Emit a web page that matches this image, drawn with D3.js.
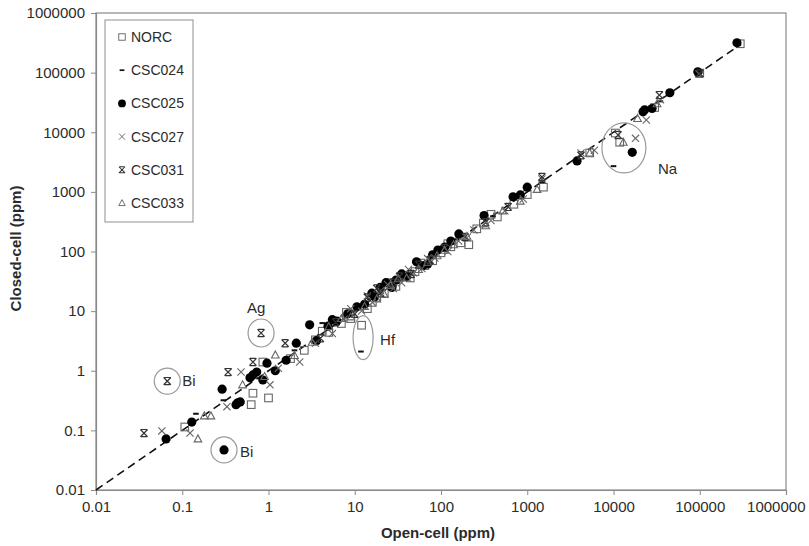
<!DOCTYPE html>
<html>
<head>
<meta charset="utf-8">
<script src="https://cdn.jsdelivr.net/npm/d3@7"></script>
<style>
  body { margin: 0; background: #fff; }
  svg { display: block; font-family: "Liberation Sans", Arial, sans-serif; }
</style>
</head>
<body>
<svg id="chart" width="809" height="546"></svg>
<script>
// Open-cell vs closed-cell concentrations (ppm), log-log

const tickValues = [0.01, 0.1, 1, 10, 100, 1000, 10000, 100000, 1000000];
const tickLabels = ["0.01", "0.1", "1", "10", "100", "1000", "10000", "100000", "1000000"];
const seriesNames = ["NORC", "CSC024", "CSC025", "CSC027", "CSC031", "CSC033"];

// [open-cell, closed-cell]
const norc = [[0.107, 0.114], [0.66, 0.42], [1.0, 0.35], [0.63, 0.27], [0.86, 1.4], [1.8, 1.6],
    [2.6, 2.2], [3.5, 3.3], [5, 4.4], [7, 6.2], [9, 7.5], [12, 5.8], [14, 11], [18, 17], [22, 20],
    [30, 26], [38, 40], [50, 46], [65, 58], [80, 70], [100, 95], [130, 120], [170, 140], [210, 130],
    [310, 300], [450, 380], [700, 620], [1000, 900], [1540, 1200], [5300, 4500], [10500, 9700],
    [11800, 6800], [30000, 26000], [100000, 98000], [295000, 305000],
    [4.2, 4.6], [8, 9.5], [16, 14], [26, 30], [44, 36], [58, 64], [120, 135], [260, 240], [380, 420]];
const csc024 = [[0.144, 0.19], [0.3, 0.32], [4.2, 6.3], [11.8, 2.1], [0.8, 0.75], [2, 2.2], [8, 8.5],
    [25, 26], [60, 62], [150, 160], [400, 390], [1500, 1450], [10000, 2700], [35000, 33000],
    [100000, 100000], [280000, 290000], [15, 16], [35, 33], [90, 95]];
const csc025 = [[0.065, 0.072], [0.129, 0.138], [0.29, 0.49], [0.44, 0.29], [0.305, 0.047], [0.47, 0.3],
    [0.42, 0.27], [0.61, 0.76], [0.66, 0.85], [0.73, 0.95], [0.86, 0.7], [0.96, 1.34], [1.6, 1.5],
    [2.1, 2.9], [3.0, 5.9], [4.9, 5.6], [6.2, 6.8], [8.3, 9], [10.6, 11.8], [13, 13], [15.8, 20],
    [19.7, 25], [23, 30], [30, 33], [40, 38], [52, 67], [70, 62], [92, 106], [110, 118], [161, 197],
    [316, 400], [685, 825], [830, 890], [1000, 1200], [3780, 3300], [16500, 4600], [22000, 22000],
    [23000, 23800], [28000, 25000], [45000, 46000], [95000, 103000], [270000, 316000],
    [3.6, 3.2], [5.5, 7.2], [17, 17.5], [27, 25], [35, 42], [62, 58], [80, 88], [130, 150], [1.2, 1.0]];
const csc027 = [[0.058, 0.098], [0.123, 0.09], [0.33, 0.25], [0.48, 0.95], [1.04, 0.58], [2.3, 1.4],
    [1.3, 1.1], [3.5, 2.9], [5.5, 4.2], [7.5, 7.3], [12, 10], [16, 14], [20, 22], [28, 24], [35, 30],
    [48, 44], [60, 52], [85, 78], [120, 100], [160, 150], [240, 230], [380, 330], [550, 480],
    [900, 760], [1480, 1650], [4200, 4500], [6000, 5000], [18000, 7900], [24000, 16000],
    [35000, 35000], [98000, 95000], [9, 11], [14, 18], [24, 28], [42, 50], [70, 76], [200, 170]];
const csc031 = [[0.036, 0.09], [0.067, 0.67], [0.34, 0.95], [0.66, 1.4], [0.82, 4.3], [1.56, 2.9],
    [4, 3.5], [6, 6.5], [10, 9], [14, 17], [20, 20], [33, 38], [45, 42], [75, 72], [110, 115],
    [190, 175], [330, 310], [600, 560], [1480, 1780], [4200, 4100], [11300, 9000], [34000, 42000],
    [100000, 97000], [18, 24], [28, 30], [55, 60]];
const csc033 = [[0.152, 0.072], [0.18, 0.175], [0.215, 0.175], [0.5, 0.58], [1.2, 1.84], [0.9, 0.8],
    [2, 1.8], [3.2, 3], [5, 5.5], [9, 8], [13, 12], [18, 16], [26, 27], [40, 36], [55, 50], [90, 85],
    [140, 130], [200, 180], [330, 270], [520, 480], [830, 700], [1300, 1100], [5300, 4500],
    [13000, 6800], [19000, 17000], [32000, 30000], [7, 7.5], [22, 19], [32, 35], [70, 66], [110, 105]];

const oneToOne = [0.01, 300000];

// circled outliers: element label and the point the ring sits on
const annoLabels = ["Bi", "Bi", "Ag", "Hf", "Na"];
const annoPoints = [[0.067, 0.67], [0.305, 0.047], [0.82, 4.3], [12.5, 3.6], [13200, 5470]];

const W = 809, H = 546;
const margin = { top: 13, right: 23, bottom: 56, left: 96 };
const innerW = W - margin.left - margin.right;
const innerH = H - margin.top - margin.bottom;

const svg = d3.select("#chart");
const g = svg.append("g").attr("transform", `translate(${margin.left},${margin.top})`);

const x = d3.scaleLog().domain([0.01, 1000000]).range([0, innerW]);
const y = d3.scaleLog().domain([0.01, 1000000]).range([innerH, 0]);

const AXIS_COL = "#8a8a8a";
const TEXT_COL = "#2b2b2b";

// frame
g.append("rect")
    .attr("width", innerW).attr("height", innerH)
    .attr("fill", "none").attr("stroke", AXIS_COL).attr("stroke-width", 1.2);

// axes
const xAxis = g.append("g")
    .attr("transform", `translate(0,${innerH})`)
    .call(d3.axisBottom(x).tickValues(tickValues).tickFormat((d, i) => tickLabels[i]).tickSize(5).tickPadding(6));
const yAxis = g.append("g")
    .call(d3.axisLeft(y).tickValues(tickValues).tickFormat((d, i) => tickLabels[i]).tickSize(5).tickPadding(6));

[xAxis, yAxis].forEach(ax => {
    ax.select(".domain").attr("stroke", AXIS_COL).attr("stroke-width", 1.2);
    ax.selectAll(".tick line").attr("stroke", AXIS_COL);
    ax.selectAll(".tick text")
        .attr("fill", TEXT_COL)
        .attr("font-size", "15px")
        .attr("font-family", "Liberation Sans, Arial, sans-serif");
});
// last x label is pulled in so it stays inside the page, like the original
xAxis.selectAll(".tick text").filter(d => d === 1000000)
    .attr("text-anchor", "end").attr("dx", "19px");

// titles
svg.append("text")
    .attr("x", margin.left + innerW / 2 - 3)
    .attr("y", 538)
    .attr("text-anchor", "middle")
    .attr("font-size", "15px").attr("font-weight", "bold").attr("fill", TEXT_COL)
    .text("Open-cell (ppm)");
svg.append("text")
    .attr("transform", `translate(21,${margin.top + innerH / 2 - 3}) rotate(-90)`)
    .attr("text-anchor", "middle")
    .attr("font-size", "15px").attr("font-weight", "bold").attr("fill", TEXT_COL)
    .text("Closed-cell (ppm)");

// 1:1 line
g.append("line")
    .attr("x1", x(oneToOne[0])).attr("y1", y(oneToOne[0]))
    .attr("x2", x(oneToOne[1])).attr("y2", y(oneToOne[1]))
    .attr("stroke", "#111").attr("stroke-width", 1.6)
    .attr("stroke-dasharray", "8,5");

// --- marker shapes ---
function drawMarker(sel, type) {
    if (type === "NORC") {
        sel.append("rect").attr("x", -3.8).attr("y", -3.8).attr("width", 7.6).attr("height", 7.6)
            .attr("fill", "none").attr("stroke", "#666").attr("stroke-width", 1.1);
    } else if (type === "CSC024") {
        sel.append("rect").attr("x", -2.8).attr("y", -1).attr("width", 5.6).attr("height", 2)
            .attr("fill", "#111");
    } else if (type === "CSC025") {
        sel.append("circle").attr("r", 4.6).attr("fill", "#000");
    } else if (type === "CSC027") {
        sel.append("path").attr("d", "M-3.6,-3.6L3.6,3.6M-3.6,3.6L3.6,-3.6")
            .attr("stroke", "#666").attr("stroke-width", 1.1).attr("fill", "none");
    } else if (type === "CSC031") {
        sel.append("path").attr("d", "M-3.6,-3.6L3.6,3.6M-3.6,3.6L3.6,-3.6M-3,-3.6L3,-3.6M-3,3.6L3,3.6")
            .attr("stroke", "#333").attr("stroke-width", 1.2).attr("fill", "none");
    } else if (type === "CSC033") {
        sel.append("path").attr("d", "M0,-4L3.8,3L-3.8,3Z")
            .attr("stroke", "#666").attr("stroke-width", 1.1).attr("fill", "none");
    }
}

const seriesData = [norc, csc024, csc025, csc027, csc031, csc033];

seriesData.forEach((data, i) => {
    const name = seriesNames[i];
    g.append("g").attr("class", "series")
        .selectAll("g")
        .data(data)
        .join("g")
        .attr("transform", d => `translate(${x(d[0])},${y(d[1])})`)
        .each(function () { drawMarker(d3.select(this), name); });
});

// --- outlier rings ---
const ringStyle = [
    { rx: 13, ry: 13, lx: 15, ly: 5, anchor: "start" },
    { rx: 13, ry: 13, lx: 16, ly: 7, anchor: "start" },
    { rx: 13, ry: 14, lx: -5, ly: -20, anchor: "middle" },
    { rx: 10, ry: 22, lx: 17, ly: 7, anchor: "start" },
    { rx: 22, ry: 25, lx: 34, ly: 26, anchor: "start" }
];
annoPoints.forEach((p, i) => {
    const s = ringStyle[i];
    const cx = x(p[0]), cy = y(p[1]);
    g.append("ellipse")
        .attr("cx", cx).attr("cy", cy).attr("rx", s.rx).attr("ry", s.ry)
        .attr("fill", "none").attr("stroke", "#999").attr("stroke-width", 1.2);
    g.append("text")
        .attr("x", cx + s.lx).attr("y", cy + s.ly)
        .attr("text-anchor", s.anchor)
        .attr("font-size", "15px").attr("fill", TEXT_COL)
        .text(annoLabels[i]);
});

// --- legend ---
const legend = svg.append("g").attr("transform", "translate(105,20)");
legend.append("rect")
    .attr("width", 88).attr("height", 202)
    .attr("fill", "#fff").attr("stroke", "#999").attr("stroke-width", 1.1);
seriesNames.forEach((name, i) => {
    const row = legend.append("g").attr("transform", `translate(17,${17 + i * 33.2})`);
    const m = row.append("g").attr("transform", "scale(0.85)");
    drawMarker(m, name);
    row.append("text")
        .attr("x", 9).attr("y", 5)
        .attr("font-size", "14px").attr("fill", TEXT_COL)
        .text(name);
});
</script>
</body>
</html>
